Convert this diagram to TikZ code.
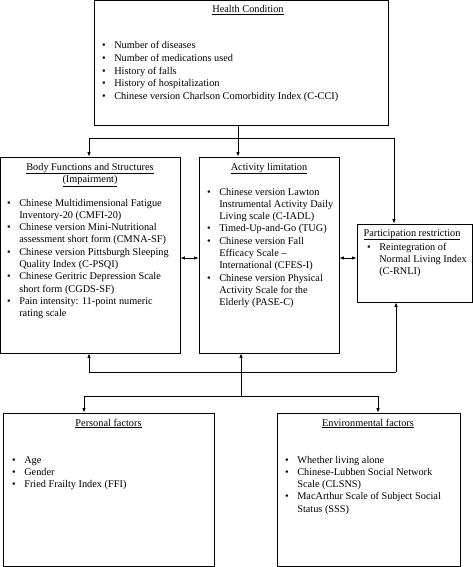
\documentclass[tikz,border=0pt]{standalone}
\usepackage{fontspec}
\setmainfont{Liberation Serif}
\usetikzlibrary{arrows.meta}

% bullet list and title helpers
\newcommand{\blist}[1]{\begin{tabular}[t]{@{}l@{\hspace{8.5pt}}l@{}}#1\end{tabular}}
\newcommand{\btitle}[1]{\begin{tabular}[t]{@{}c@{}}#1\end{tabular}}

\tikzset{
  factorbox/.style={draw, line width=0.8pt, inner sep=0pt},
  listtext/.style={anchor=base west, inner sep=0pt, font=\fontsize{10.3}{12.3}\selectfont},
  titletext/.style={anchor=base, inner sep=0pt, font=\fontsize{10.3}{12.3}\selectfont},
  link/.style={line width=0.8pt},
  arrowlink/.style={link, -{Latex[length=4.5pt,width=3.5pt]}},
  bothlink/.style={link, {Latex[length=4.5pt,width=3.5pt]}-{Latex[length=4.5pt,width=3.5pt]}}
}

\begin{document}
\begin{tikzpicture}[x=1pt, y=1pt]
\useasboundingbox (0,0) rectangle (473,-567);

% Draw the boxes
\node[factorbox, minimum width=294pt, minimum height=124.5pt] (health) at (241,-62.75) {};
\node[factorbox, minimum width=179.5pt, minimum height=196pt] (body) at (90.25,-255) {};
\node[factorbox, minimum width=140pt, minimum height=196pt] (activity) at (269,-255) {};
\node[factorbox, minimum width=115pt, minimum height=78pt] (participation) at (414.5,-263) {};
\node[factorbox, minimum width=211pt, minimum height=153pt] (personal) at (108.5,-489.5) {};
\node[factorbox, minimum width=183pt, minimum height=153pt] (environmental) at (368.5,-489.5) {};

% Titles
\node[titletext] (healthtitle) at (248,-13) {\underline{Health Condition}};
\node[titletext] (bodytitle) at (90,-170) {\btitle{\underline{Body Functions and Structures}\\ \underline{(Impairment)}}};
\node[titletext] (activitytitle) at (269,-170) {\underline{Activity limitation}};
\node[titletext] (participationtitle) at (412,-236) {\underline{Participation restriction}};
\node[titletext] (personaltitle) at (108.5,-426) {\underline{Personal factors}};
\node[titletext] (environmentaltitle) at (368,-426) {\underline{Environmental factors}};

% Lists
\node[listtext, font=\fontsize{10.3}{12.6}\selectfont] (healthlist) at (102,-49) {\blist{%
\textbullet & Number of diseases\\
\textbullet & Number of medications used\\
\textbullet & History of falls\\
\textbullet & History of hospitalization\\
\textbullet & Chinese version Charlson Comorbidity Index (C-CCI)}};
\node[listtext] (bodylist) at (7,-206) {\blist{%
\textbullet & Chinese Multidimensional Fatigue\\
 & Inventory-20 (CMFI-20)\\
\textbullet & Chinese version Mini-Nutritional\\
 & assessment short form (CMNA-SF)\\
\textbullet & Chinese version Pittsburgh Sleeping\\
 & Quality Index (C-PSQI)\\
\textbullet & Chinese Geritric Depression Scale\\
 & short form (CGDS-SF)\\
\textbullet & Pain intensity: 11-point numeric\\
 & rating scale}};
\node[listtext] (activitylist) at (207,-195) {\blist{%
\textbullet & Chinese version Lawton\\
 & Instrumental Activity Daily\\
 & Living scale (C-IADL)\\
\textbullet & Timed-Up-and-Go (TUG)\\
\textbullet & Chinese version Fall\\
 & Efficacy Scale --\\
 & International (CFES-I)\\
\textbullet & Chinese version Physical\\
 & Activity Scale for the\\
 & Elderly (PASE-C)}};
\node[listtext] (participationlist) at (367,-250) {\blist{%
\textbullet & Reintegration of\\
 & Normal Living Index\\
 & (C-RNLI)}};
\node[listtext] (personallist) at (12,-463) {\blist{%
\textbullet & Age\\
\textbullet & Gender\\
\textbullet & Fried Frailty Index (FFI)}};
\node[listtext] (environmentallist) at (285,-463) {\blist{%
\textbullet & Whether living alone\\
\textbullet & Chinese-Lubben Social Network\\
 & Scale (CLSNS)\\
\textbullet & MacArthur Scale of Subject Social\\
 & Status (SSS)}};

% Connectors from the health condition
\coordinate (top) at (238,-138);
\coordinate (tl) at (89,-138);
\coordinate (tr) at (394,-138);
\draw[link] (health.south -| top) -- (top);
\draw[link] (tl) -- (tr);
\draw[arrowlink] (tl) -- (tl |- body.north);
\draw[arrowlink] (top) -- (top |- activity.north);
\draw[arrowlink] (tr) -- (tr |- participation.north);

% Two-way links in the middle row
\coordinate (mid) at (0,-258);
\draw[bothlink] (body.east |- mid) -- (activity.west |- mid);
\draw[bothlink] (activity.east |- mid) -- (participation.west |- mid);

% Connectors to the contextual factors
\coordinate (bl) at (89,-372);
\coordinate (br) at (396,-372);
\coordinate (bot) at (241,-396);
\coordinate (pl) at (84,-396);
\coordinate (pr) at (378,-396);
\draw[link] (bl) -- (br);
\draw[arrowlink] (bl) -- (bl |- body.south);
\draw[arrowlink] (br) -- (br |- participation.south);
\draw[arrowlink] (bot) -- (bot |- activity.south);
\draw[link] (pl) -- (pr);
\draw[arrowlink] (pl) -- (pl |- personal.north);
\draw[arrowlink] (pr) -- (pr |- environmental.north);
\end{tikzpicture}
\end{document}
